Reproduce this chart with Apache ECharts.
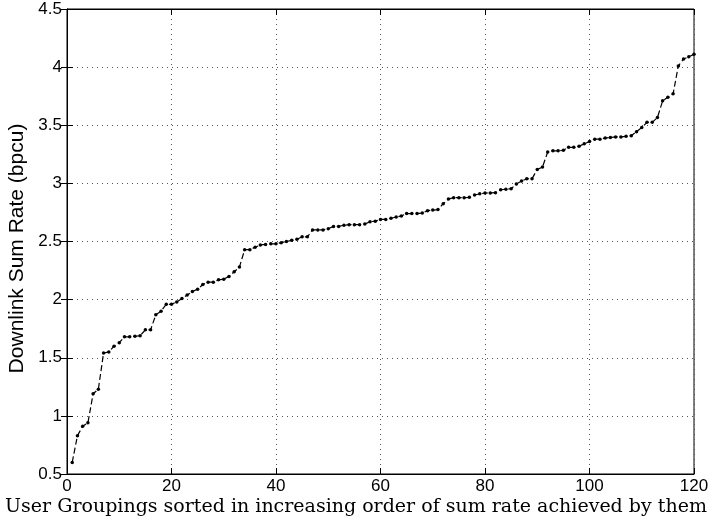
<!DOCTYPE html>
<html>
<head>
<meta charset="utf-8">
<script src="https://cdn.jsdelivr.net/npm/echarts@6/dist/echarts.min.js"></script>
<style>
html, body { margin: 0; padding: 0; background: #fff; }
#chart { width: 712px; height: 524px; }
</style>
</head>
<body>
<div id="chart"></div>
<script>
// 用户分组序号 1..120
var groupIdx = [];
for (var i = 1; i <= 120; i++) groupIdx.push(i);

// 下行和速率 (bpcu)
var sumRate = [
	0.60, 0.83, 0.91, 0.94, 1.19, 1.23, 1.54, 1.55, 1.60, 1.63,
	1.68, 1.68, 1.685, 1.69, 1.74, 1.74, 1.87, 1.90, 1.96, 1.96,
	1.98, 2.01, 2.04, 2.07, 2.09, 2.13, 2.15, 2.15, 2.17, 2.175,
	2.20, 2.24, 2.28, 2.43, 2.43, 2.45, 2.47, 2.475, 2.48, 2.48,
	2.49, 2.50, 2.51, 2.52, 2.54, 2.54, 2.60, 2.60, 2.60, 2.61,
	2.63, 2.63, 2.64, 2.645, 2.645, 2.645, 2.65, 2.67, 2.675, 2.69,
	2.69, 2.70, 2.71, 2.72, 2.74, 2.74, 2.74, 2.745, 2.765, 2.77,
	2.775, 2.825, 2.865, 2.877, 2.877, 2.877, 2.88, 2.90, 2.91, 2.917,
	2.917, 2.92, 2.945, 2.95, 2.954, 2.994, 3.02, 3.04, 3.04, 3.12,
	3.14, 3.27, 3.28, 3.28, 3.285, 3.31, 3.31, 3.32, 3.34, 3.36,
	3.38, 3.38, 3.39, 3.395, 3.40, 3.40, 3.405, 3.41, 3.445, 3.48,
	3.525, 3.525, 3.566, 3.71, 3.74, 3.77, 4.01, 4.07, 4.09, 4.11
];

var xTicks = [0, 20, 40, 60, 80, 100, 120];
var yTicks = [0.5, 1, 1.5, 2, 2.5, 3, 3.5, 4, 4.5];

var seriesData = groupIdx.map(function(x, k) { return [x, sumRate[k]]; });

var myChart = echarts.init(document.getElementById('chart'));
var tickFont = { fontFamily: 'Liberation Sans', fontSize: 17, color: '#000' };
var gridLine = { show: true, lineStyle: { color: '#555', type: [1, 4], width: 1 } };

var option = {
	animation: false,
	backgroundColor: '#fff',
	// x轴标题居中于整个画布
	title: {
		text: 'User Groupings sorted in increasing order of sum rate achieved by them',
		left: 'center', top: 498, padding: 0,
		textStyle: { fontFamily: 'DejaVu Serif', fontSize: 19, fontWeight: 'normal', color: '#000' }
	},
	grid: {
		left: 67, right: 18, top: 9, bottom: 50,
		outerBoundsMode: 'none', containLabel: false,
		show: true, borderColor: '#000', borderWidth: 1
	},
	xAxis: [
		{
			type: 'value', min: 0, max: 120, interval: 20,
			axisLine: { show: true, lineStyle: { color: '#000' } },
			axisTick: { inside: true, length: 6, lineStyle: { color: '#000' } },
			axisLabel: Object.assign({ margin: 4 }, tickFont),
			splitLine: gridLine
		},
		{
			type: 'value', min: 0, max: 120, interval: 20, position: 'top',
			axisLine: { show: true, lineStyle: { color: '#000' } },
			axisTick: { inside: true, length: 6, lineStyle: { color: '#000' } },
			axisLabel: { show: false },
			splitLine: { show: false }
		}
	],
	yAxis: [
		{
			type: 'value', min: 0.5, max: 4.5, interval: 0.5,
			name: 'Downlink Sum Rate (bpcu)',
			nameLocation: 'middle', nameGap: 38,
			nameTextStyle: { fontFamily: 'Liberation Sans', fontSize: 21, color: '#000', padding: [0, 14, 0, 0] },
			axisLine: { show: true, lineStyle: { color: '#000' } },
			axisTick: { inside: true, length: 6, lineStyle: { color: '#000' } },
			axisLabel: Object.assign({ margin: 5 }, tickFont),
			splitLine: gridLine
		},
		{
			type: 'value', min: 0.5, max: 4.5, interval: 0.5, position: 'right',
			axisLine: { show: true, lineStyle: { color: '#000' } },
			axisTick: { inside: true, length: 6, lineStyle: { color: '#000' } },
			axisLabel: { show: false },
			splitLine: { show: false }
		}
	],
	series: [
		{
			type: 'line',
			data: seriesData,
			symbol: 'circle',
			symbolSize: 3.5,
			itemStyle: { color: '#000' },
			lineStyle: { color: '#000', width: 1.2, type: [6, 3] }
		}
	]
};

option && myChart.setOption(option);
</script>
</body>
</html>
